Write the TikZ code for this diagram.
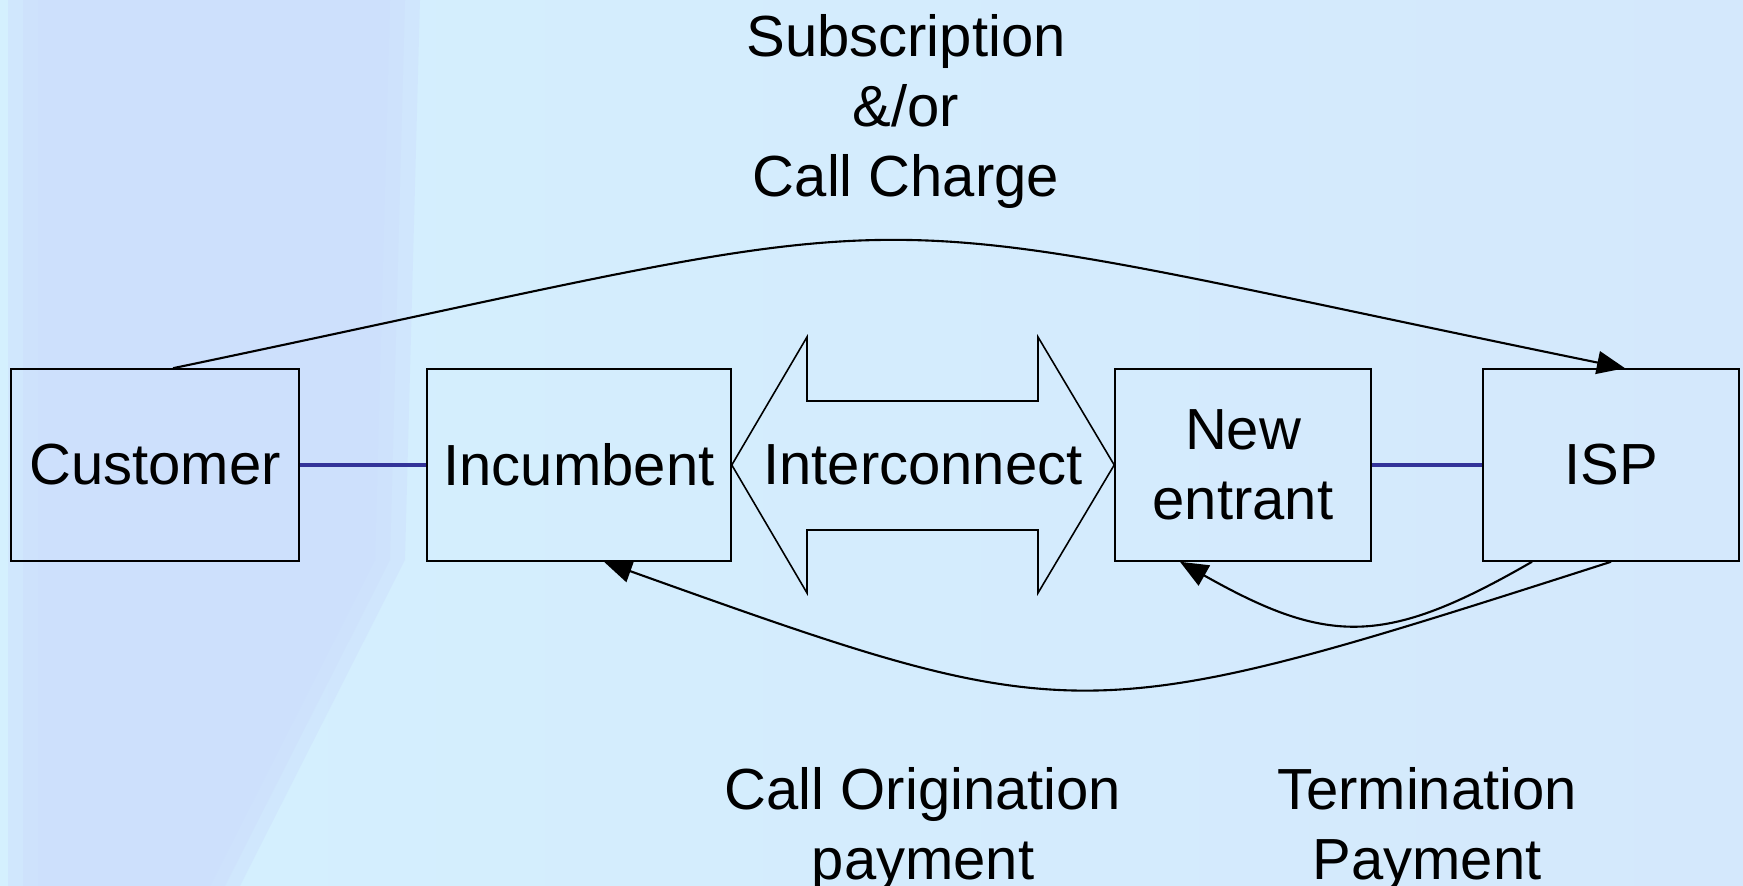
\documentclass[tikz,border=0pt]{standalone}
\usepackage{fontspec}
\setmainfont{Liberation Sans}
\usetikzlibrary{arrows.meta,positioning}
\definecolor{bgcyan}{RGB}{212,240,254}
\definecolor{bglav}{RGB}{204,222,252}
\definecolor{bgright}{RGB}{212,232,252}
\definecolor{linkblue}{RGB}{51,51,153}

\begin{document}
\begin{tikzpicture}[
        box/.style={draw,line width=0.45pt,rectangle,inner sep=0pt,minimum height=1.92cm,align=center},
        link/.style={draw=linkblue,line width=0.9pt},
        pay/.style={line width=0.6pt,-{Triangle[length=2.8mm,width=2.3mm]}},
        lbl/.style={inner sep=0pt,align=center},
        font=\fontsize{16.5}{19.9}\selectfont
    ]
    % background
    \useasboundingbox (0,0) rectangle (17.43,8.86);
    \shade[left color=bgcyan,middle color=bgcyan,right color=bgright] (0,0) rectangle (17.43,8.86);
    \foreach \d in {0.3,0.15,0}{
        \fill[bglav,opacity=0.45] (0.38-\d,0) -- (0.38-\d,8.86) -- (3.9+\d,8.86) -- (3.75+\d,3.26) -- (2.1+\d,0) -- cycle;
    }

    % boxes
    \node[box,minimum width=2.88cm] (cust) at (1.55,4.21) {Customer};
    \node[box,minimum width=3.04cm] (inc) at (5.79,4.21) {Incumbent};
    \node[box,minimum width=2.56cm] (ne) at (12.43,4.21) {New\\entrant};
    \node[box,minimum width=2.56cm] (isp) at (16.11,4.21) {ISP};

    % interconnect arrow
    \draw[line width=0.45pt] (inc.east) -- (8.07,5.49) -- (8.07,4.85) -- (10.38,4.85) -- (10.38,5.49)
        -- (ne.west) -- (10.38,2.93) -- (10.38,3.56) -- (8.07,3.56) -- (8.07,2.93) -- cycle;
    \node[lbl] (ic) at (9.23,4.21) {Interconnect};

    \draw[link] (cust) -- (inc);
    \draw[link] (ne) -- (isp);

    % payments
    \draw[pay] ([xshift=1.8mm]cust.north) .. controls (9.87,6.88) and (7.95,6.88) .. ([xshift=1.4mm]isp.north);
    \draw[pay] (isp.south) .. controls (10.8,1.54) .. ([xshift=2.5mm]inc.south);
    \draw[pay] ([xshift=-7.9mm]isp.south) .. controls (13.86,2.40) and (13.29,2.40) .. ([xshift=-6.3mm]ne.south);

    \node[lbl,anchor=north] (sub) at (9.06,8.72) {Subscription\\\&/or\\Call Charge};
    \node[lbl,anchor=north] (orig) at (9.23,1.19) {Call Origination\\payment};
    \node[lbl,anchor=north] (term) at (14.27,1.19) {Termination\\Payment};
\end{tikzpicture}
\end{document}
